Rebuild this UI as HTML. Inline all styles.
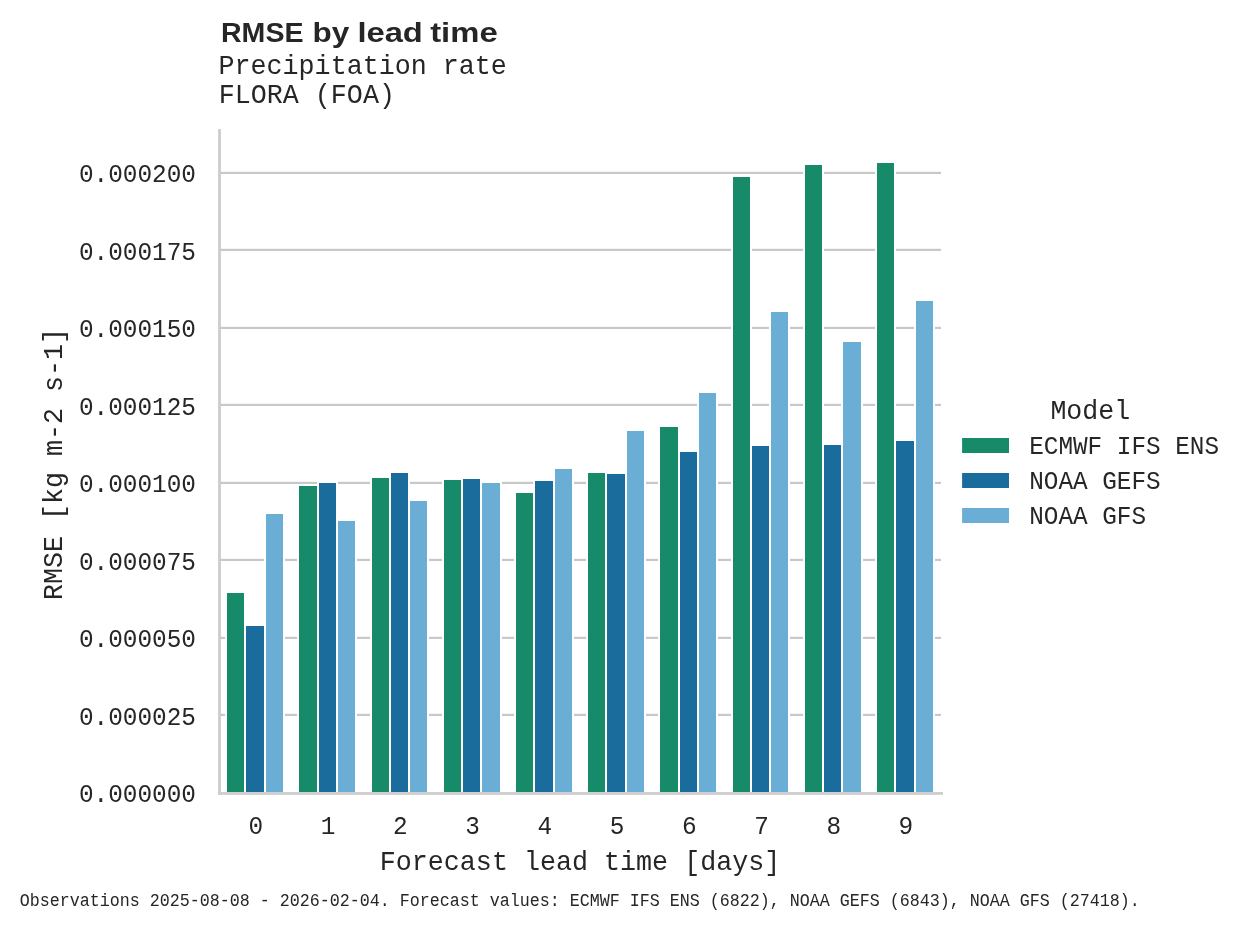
<!DOCTYPE html>
<html><head><meta charset="utf-8"><title>RMSE by lead time</title>
<style>html,body{margin:0;padding:0;background:#fff;width:1241px;height:928px;overflow:hidden;position:relative}</style></head><body>
<svg width="1241" height="928" viewBox="0 0 1241 928" style="position:absolute;left:0;top:0;will-change:transform">
<style>.m{font-family:"Liberation Mono",monospace;fill:#262626}.b{font-family:"Liberation Sans",sans-serif;font-weight:bold;fill:#262626}</style>
<rect width="1241" height="928" fill="#ffffff"/>
<rect x="219" y="171.80" width="722" height="2.2" fill="#c8c8c8"/>
<rect x="219" y="248.80" width="722" height="2.2" fill="#c8c8c8"/>
<rect x="219" y="326.80" width="722" height="2.2" fill="#c8c8c8"/>
<rect x="219" y="403.80" width="722" height="2.2" fill="#c8c8c8"/>
<rect x="219" y="481.80" width="722" height="2.2" fill="#c8c8c8"/>
<rect x="219" y="558.80" width="722" height="2.2" fill="#c8c8c8"/>
<rect x="219" y="636.80" width="722" height="2.2" fill="#c8c8c8"/>
<rect x="219" y="713.80" width="722" height="2.2" fill="#c8c8c8"/>
<rect x="225" y="591" width="21" height="201" fill="#ffffff"/>
<rect x="244" y="624" width="22" height="168" fill="#ffffff"/>
<rect x="264" y="512" width="21" height="280" fill="#ffffff"/>
<rect x="297" y="484" width="22" height="308" fill="#ffffff"/>
<rect x="317" y="481" width="21" height="311" fill="#ffffff"/>
<rect x="336" y="519" width="21" height="273" fill="#ffffff"/>
<rect x="370" y="476" width="21" height="316" fill="#ffffff"/>
<rect x="389" y="471" width="21" height="321" fill="#ffffff"/>
<rect x="408" y="499" width="21" height="293" fill="#ffffff"/>
<rect x="442" y="478" width="21" height="314" fill="#ffffff"/>
<rect x="461" y="477" width="21" height="315" fill="#ffffff"/>
<rect x="480" y="481" width="22" height="311" fill="#ffffff"/>
<rect x="514" y="491" width="21" height="301" fill="#ffffff"/>
<rect x="533" y="479" width="22" height="313" fill="#ffffff"/>
<rect x="553" y="467" width="21" height="325" fill="#ffffff"/>
<rect x="586" y="471" width="21" height="321" fill="#ffffff"/>
<rect x="605" y="472" width="22" height="320" fill="#ffffff"/>
<rect x="625" y="429" width="21" height="363" fill="#ffffff"/>
<rect x="658" y="425" width="22" height="367" fill="#ffffff"/>
<rect x="678" y="450" width="21" height="342" fill="#ffffff"/>
<rect x="697" y="391" width="21" height="401" fill="#ffffff"/>
<rect x="731" y="175" width="21" height="617" fill="#ffffff"/>
<rect x="750" y="444" width="21" height="348" fill="#ffffff"/>
<rect x="769" y="310" width="21" height="482" fill="#ffffff"/>
<rect x="803" y="163" width="21" height="629" fill="#ffffff"/>
<rect x="822" y="443" width="21" height="349" fill="#ffffff"/>
<rect x="841" y="340" width="22" height="452" fill="#ffffff"/>
<rect x="875" y="161" width="21" height="631" fill="#ffffff"/>
<rect x="894" y="439" width="22" height="353" fill="#ffffff"/>
<rect x="914" y="299" width="21" height="493" fill="#ffffff"/>
<rect x="227" y="593" width="17" height="199" fill="#178a69"/>
<rect x="246" y="626" width="18" height="166" fill="#1a6c9d"/>
<rect x="266" y="514" width="17" height="278" fill="#6aaed6"/>
<rect x="299" y="486" width="18" height="306" fill="#178a69"/>
<rect x="319" y="483" width="17" height="309" fill="#1a6c9d"/>
<rect x="338" y="521" width="17" height="271" fill="#6aaed6"/>
<rect x="372" y="478" width="17" height="314" fill="#178a69"/>
<rect x="391" y="473" width="17" height="319" fill="#1a6c9d"/>
<rect x="410" y="501" width="17" height="291" fill="#6aaed6"/>
<rect x="444" y="480" width="17" height="312" fill="#178a69"/>
<rect x="463" y="479" width="17" height="313" fill="#1a6c9d"/>
<rect x="482" y="483" width="18" height="309" fill="#6aaed6"/>
<rect x="516" y="493" width="17" height="299" fill="#178a69"/>
<rect x="535" y="481" width="18" height="311" fill="#1a6c9d"/>
<rect x="555" y="469" width="17" height="323" fill="#6aaed6"/>
<rect x="588" y="473" width="17" height="319" fill="#178a69"/>
<rect x="607" y="474" width="18" height="318" fill="#1a6c9d"/>
<rect x="627" y="431" width="17" height="361" fill="#6aaed6"/>
<rect x="660" y="427" width="18" height="365" fill="#178a69"/>
<rect x="680" y="452" width="17" height="340" fill="#1a6c9d"/>
<rect x="699" y="393" width="17" height="399" fill="#6aaed6"/>
<rect x="733" y="177" width="17" height="615" fill="#178a69"/>
<rect x="752" y="446" width="17" height="346" fill="#1a6c9d"/>
<rect x="771" y="312" width="17" height="480" fill="#6aaed6"/>
<rect x="805" y="165" width="17" height="627" fill="#178a69"/>
<rect x="824" y="445" width="17" height="347" fill="#1a6c9d"/>
<rect x="843" y="342" width="18" height="450" fill="#6aaed6"/>
<rect x="877" y="163" width="17" height="629" fill="#178a69"/>
<rect x="896" y="441" width="18" height="351" fill="#1a6c9d"/>
<rect x="916" y="301" width="17" height="491" fill="#6aaed6"/>
<rect x="218.1" y="129.1" width="2.8" height="665.6" fill="#cccccc"/>
<rect x="218.1" y="792.1" width="724.9" height="2.7" fill="#cccccc"/>
<text transform="translate(196.00,802.00) scale(1,1.06)" text-anchor="end" class="m" font-size="24.4">0.000000</text>
<text transform="translate(196.00,724.50) scale(1,1.06)" text-anchor="end" class="m" font-size="24.4">0.000025</text>
<text transform="translate(196.00,647.00) scale(1,1.06)" text-anchor="end" class="m" font-size="24.4">0.000050</text>
<text transform="translate(196.00,569.50) scale(1,1.06)" text-anchor="end" class="m" font-size="24.4">0.000075</text>
<text transform="translate(196.00,492.00) scale(1,1.06)" text-anchor="end" class="m" font-size="24.4">0.000100</text>
<text transform="translate(196.00,414.50) scale(1,1.06)" text-anchor="end" class="m" font-size="24.4">0.000125</text>
<text transform="translate(196.00,337.00) scale(1,1.06)" text-anchor="end" class="m" font-size="24.4">0.000150</text>
<text transform="translate(196.00,259.50) scale(1,1.06)" text-anchor="end" class="m" font-size="24.4">0.000175</text>
<text transform="translate(196.00,182.00) scale(1,1.06)" text-anchor="end" class="m" font-size="24.4">0.000200</text>
<text transform="translate(255.91,834.30) scale(1,1.06)" text-anchor="middle" class="m" font-size="24.4">0</text>
<text transform="translate(328.13,834.30) scale(1,1.06)" text-anchor="middle" class="m" font-size="24.4">1</text>
<text transform="translate(400.36,834.30) scale(1,1.06)" text-anchor="middle" class="m" font-size="24.4">2</text>
<text transform="translate(472.58,834.30) scale(1,1.06)" text-anchor="middle" class="m" font-size="24.4">3</text>
<text transform="translate(544.80,834.30) scale(1,1.06)" text-anchor="middle" class="m" font-size="24.4">4</text>
<text transform="translate(617.02,834.30) scale(1,1.06)" text-anchor="middle" class="m" font-size="24.4">5</text>
<text transform="translate(689.24,834.30) scale(1,1.06)" text-anchor="middle" class="m" font-size="24.4">6</text>
<text transform="translate(761.46,834.30) scale(1,1.06)" text-anchor="middle" class="m" font-size="24.4">7</text>
<text transform="translate(833.69,834.30) scale(1,1.06)" text-anchor="middle" class="m" font-size="24.4">8</text>
<text transform="translate(905.91,834.30) scale(1,1.06)" text-anchor="middle" class="m" font-size="24.4">9</text>
<text transform="translate(580.00,869.80) scale(1,1.065)" text-anchor="middle" class="m" font-size="26.7">Forecast lead time [days]</text>
<text transform="translate(62.00,464.00) rotate(-90) scale(1,1.06)" text-anchor="middle" class="m" font-size="26.7">RMSE [kg m-2 s-1]</text>
<text x="221.0" y="41.6" class="b" font-size="28.2" textLength="82.5" lengthAdjust="spacingAndGlyphs">RMSE</text>
<text x="312.4" y="41.6" class="b" font-size="28.2" textLength="36.8" lengthAdjust="spacingAndGlyphs">by</text>
<text x="357.4" y="41.6" class="b" font-size="28.2" textLength="65.4" lengthAdjust="spacingAndGlyphs">lead</text>
<text x="430.2" y="41.6" class="b" font-size="28.2" textLength="67.5" lengthAdjust="spacingAndGlyphs">time</text>
<text transform="translate(218.50,73.90) scale(1,1.065)" class="m" font-size="26.7">Precipitation rate</text>
<text transform="translate(218.70,102.90) scale(1,1.065)" class="m" font-size="26.7">FLORA (FOA)</text>
<text transform="translate(1090.30,419.00) scale(1,1.06)" text-anchor="middle" class="m" font-size="26.6">Model</text>
<rect x="962.1" y="438.00" width="46.9" height="15" fill="#178a69"/>
<text transform="translate(1029.20,454.30) scale(1,1.06)" class="m" font-size="24.35">ECMWF IFS ENS</text>
<rect x="962.1" y="473.00" width="46.9" height="15" fill="#1a6c9d"/>
<text transform="translate(1029.20,489.30) scale(1,1.06)" class="m" font-size="24.35">NOAA GEFS</text>
<rect x="962.1" y="508.00" width="46.9" height="15" fill="#6aaed6"/>
<text transform="translate(1029.20,524.30) scale(1,1.06)" class="m" font-size="24.35">NOAA GFS</text>
<text transform="translate(19.80,906.20) scale(1,1.06)" class="m" font-size="16.68">Observations 2025-08-08 - 2026-02-04. Forecast values: ECMWF IFS ENS (6822), NOAA GEFS (6843), NOAA GFS (27418).</text>
</svg>
</body></html>
